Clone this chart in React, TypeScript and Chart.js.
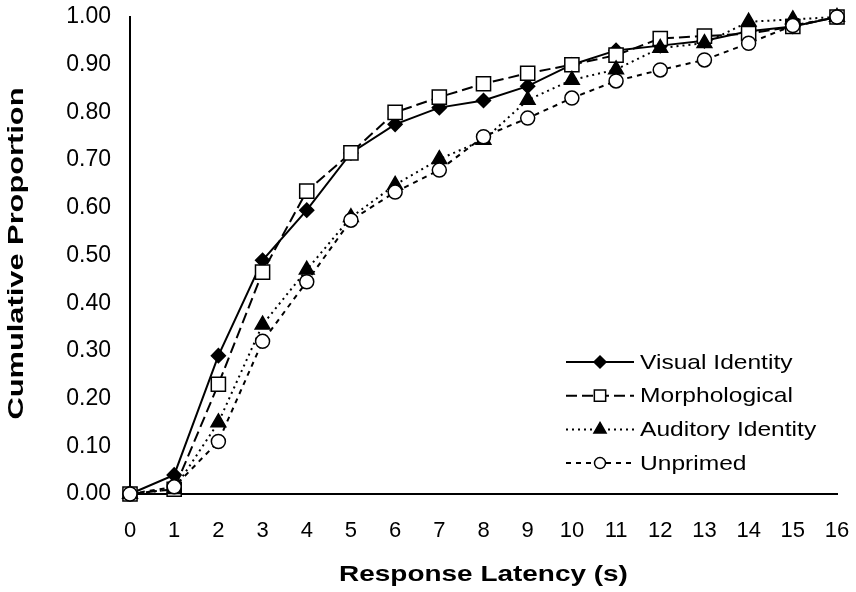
import React, { useEffect, useRef } from 'react';
import { Chart, registerables } from 'chart.js';

Chart.register(...registerables);

const latencies = ['0', '1', '2', '3', '4', '5', '6', '7', '8', '9', '10', '11', '12', '13', '14', '15', '16'];
const visualIdentity = [0, 0.04, 0.29, 0.49, 0.595, 0.715, 0.775, 0.81, 0.825, 0.855, 0.9, 0.93, 0.94, 0.95, 0.97, 0.98, 1.0];
const morphological = [0, 0.01, 0.23, 0.465, 0.635, 0.715, 0.8, 0.832, 0.86, 0.882, 0.9, 0.92, 0.955, 0.96, 0.965, 0.98, 1.0];
const auditoryIdentity = [0, 0.01, 0.15, 0.355, 0.47, 0.58, 0.648, 0.702, 0.742, 0.826, 0.868, 0.89, 0.935, 0.945, 0.99, 0.995, 1.0];
const unprimed = [0, 0.015, 0.11, 0.32, 0.445, 0.574, 0.633, 0.679, 0.749, 0.788, 0.83, 0.866, 0.889, 0.91, 0.945, 0.982, 1.0];
const seriesNames = ['Visual Identity', 'Morphological', 'Auditory Identity', 'Unprimed'];
const xTitle = 'Response Latency (s)';
const yTitle = 'Cumulative Proportion';

const FONT = '"Liberation Sans", Arial, Helvetica, sans-serif';

function drawMarker(ctx: CanvasRenderingContext2D, style: string, x: number, y: number, r: number, fill: string) {
  ctx.save();
  ctx.setLineDash([]);
  ctx.lineWidth = 1.5;
  ctx.strokeStyle = '#000';
  ctx.fillStyle = fill;
  ctx.beginPath();
  if (style === 'rectRot') {
    const s = r;
    ctx.moveTo(x, y - s);
    ctx.lineTo(x + s, y);
    ctx.lineTo(x, y + s);
    ctx.lineTo(x - s, y);
    ctx.closePath();
  } else if (style === 'rect') {
    const s = r * Math.SQRT1_2;
    ctx.rect(x - s, y - s, 2 * s, 2 * s);
  } else if (style === 'triangle') {
    ctx.moveTo(x, y - r);
    ctx.lineTo(x + r * 0.866, y + r * 0.5);
    ctx.lineTo(x - r * 0.866, y + r * 0.5);
    ctx.closePath();
  } else {
    ctx.arc(x, y, r, 0, Math.PI * 2);
  }
  ctx.fill();
  ctx.stroke();
  ctx.restore();
}

function stretchedText(ctx: CanvasRenderingContext2D, text: string, x: number, y: number, sx: number, rotate: number) {
  ctx.save();
  ctx.translate(x, y);
  if (rotate) ctx.rotate(rotate);
  ctx.scale(sx, 1);
  ctx.fillText(text, 0, 0);
  ctx.restore();
}

const overlayPlugin = {
  id: 'overlayTitlesLegend',
  afterDraw(chart: any) {
    const ctx: CanvasRenderingContext2D = chart.ctx;
    const area = chart.chartArea;
    ctx.save();
    ctx.fillStyle = '#000';
    ctx.font = `bold 22px ${FONT}`;
    ctx.textAlign = 'center';
    ctx.textBaseline = 'middle';
    stretchedText(ctx, xTitle, (area.left + area.right) / 2, 575, 1.27, 0);
    stretchedText(ctx, yTitle, 17, (area.top + area.bottom) / 2 - 2, 1.4, -Math.PI / 2);

    // legend
    const legendLeft = 566;
    const legendTop = 362;
    const rowGap = 33.7;
    ctx.font = `21px ${FONT}`;
    ctx.textAlign = 'left';
    chart.data.datasets.forEach((ds: any, i: number) => {
      const y = legendTop + i * rowGap;
      ctx.save();
      ctx.strokeStyle = '#000';
      ctx.lineWidth = ds.borderWidth;
      ctx.setLineDash(ds.borderDash || []);
      ctx.beginPath();
      ctx.moveTo(legendLeft, y);
      ctx.lineTo(legendLeft + 68, y);
      ctx.stroke();
      ctx.restore();
      drawMarker(ctx, ds.pointStyle, legendLeft + 34, y, ds.legendRadius, ds.pointBackgroundColor);
      ctx.fillStyle = '#000';
      stretchedText(ctx, ds.label, legendLeft + 74, y + 1, 1.17, 0);
    });
    ctx.restore();
  },
};

export default function App() {
  const canvasRef = useRef<HTMLCanvasElement | null>(null);

  useEffect(() => {
    document.body.style.margin = '0';
    const canvas = canvasRef.current;
    if (!canvas) return;
    const makeDs = (label: string, data: number[], style: string, radius: number, fill: string, dash: number[], order: number, legendRadius: number) => ({
      label,
      data,
      borderColor: '#000',
      borderWidth: 2,
      borderDash: dash,
      pointStyle: style,
      pointRadius: radius,
      pointHoverRadius: radius,
      pointBackgroundColor: fill,
      pointBorderColor: '#000',
      pointBorderWidth: 1.5,
      tension: 0,
      fill: false,
      clip: false,
      order,
      legendRadius,
    });
    const chart = new Chart(canvas, {
      type: 'line',
      data: {
        labels: latencies,
        datasets: [
          makeDs(seriesNames[0], visualIdentity, 'rectRot', 7, '#000', [], 3, 6),
          makeDs(seriesNames[1], morphological, 'rect', 10, '#fff', [11, 5], 2, 8),
          makeDs(seriesNames[2], auditoryIdentity, 'triangle', 8.5, '#000', [2, 4], 1, 7),
          makeDs(seriesNames[3], unprimed, 'circle', 7, '#fff', [5, 5], 0, 5.5),
        ] as any,
      },
      options: {
        animation: false,
        responsive: false,
        events: [],
        layout: { autoPadding: false, padding: { left: 0, right: 19, top: 17, bottom: 0 } },
        plugins: { legend: { display: false }, tooltip: { enabled: false }, title: { display: false } },
        scales: {
          x: {
            type: 'category',
            grid: { display: false, drawTicks: false },
            border: { display: true, color: '#000', width: 2 },
            ticks: { color: '#000', font: { family: FONT, size: 22 }, padding: 24, maxRotation: 0, autoSkip: false },
            afterFit(scale: any) {
              scale.height = 98;
              scale.paddingLeft = 0;
              scale.paddingRight = 0;
            },
          },
          y: {
            min: 0,
            max: 1,
            grid: { display: false, drawTicks: false },
            border: { display: true, color: '#000', width: 2 },
            ticks: {
              stepSize: 0.1,
              color: '#000',
              font: { family: FONT, size: 23 },
              padding: 19,
              callback: (v: any) => Number(v).toFixed(2),
            },
            afterFit(scale: any) {
              scale.width = 130;
              scale.paddingTop = 0;
              scale.paddingBottom = 0;
            },
          },
        },
      } as any,
      plugins: [overlayPlugin],
    });
    return () => chart.destroy();
  }, []);

  return <canvas ref={canvasRef} width={856} height={592} style={{ display: 'block' }} />;
}
